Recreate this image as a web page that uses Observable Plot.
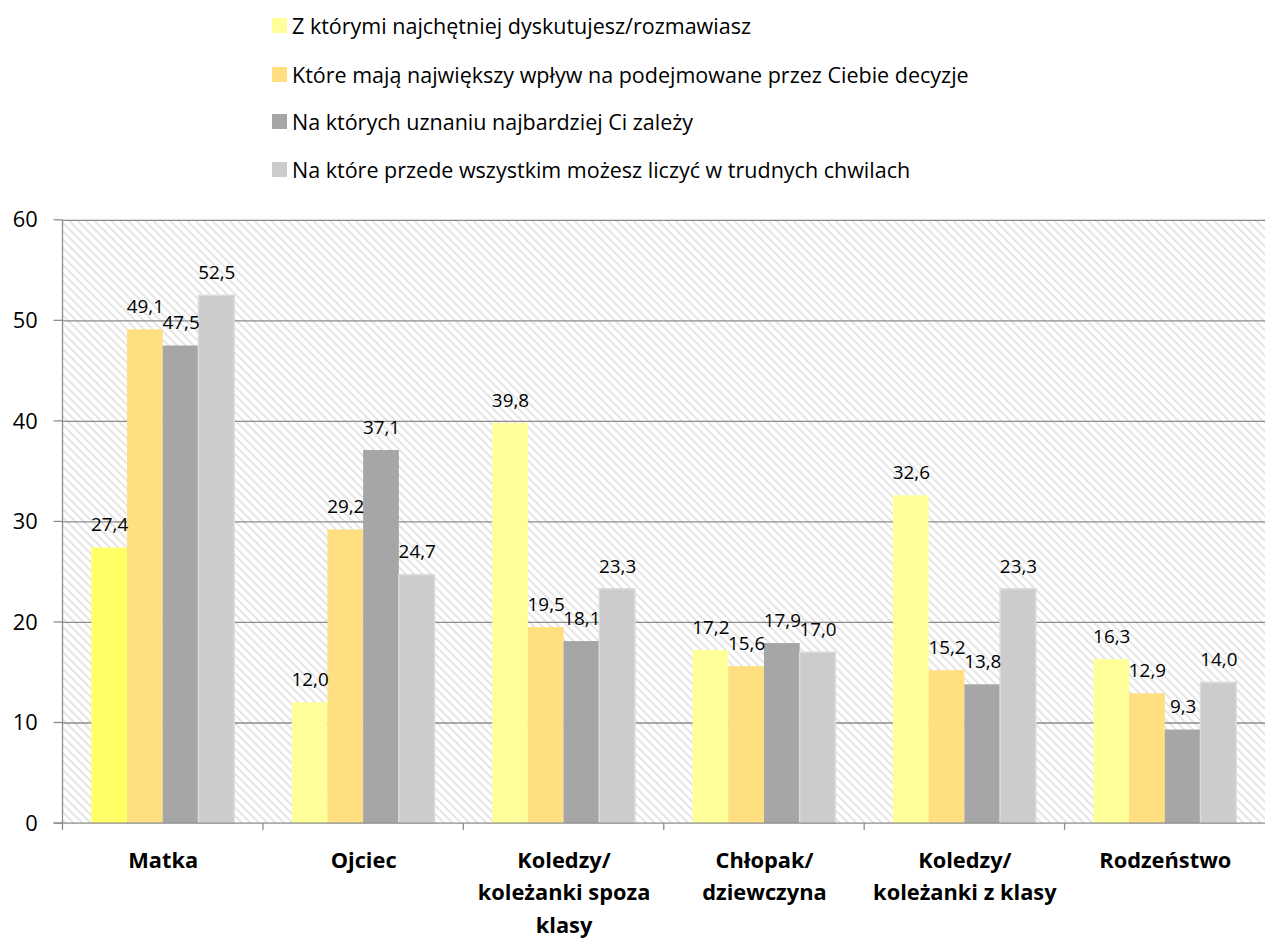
<!DOCTYPE html>
<html>
<head>
<meta charset="utf-8">
<script src="https://cdn.jsdelivr.net/npm/d3@7"></script>
<script src="https://cdn.jsdelivr.net/npm/@observablehq/plot@0.6"></script>
<style>
  html, body { margin: 0; padding: 0; background: #fff; }
  body { width: 1265px; height: 940px; position: relative; font-family: "Open Sans", sans-serif; overflow: hidden; }
  #legend { position: absolute; left: 272px; top: 0; }
  .item { position: absolute; left: 0; white-space: nowrap; font-size: 21.5px; color: #000; display: flex; align-items: center; height: 30px; }
  .sw { width: 15px; height: 15px; margin-right: 5px; flex: none; }
  #chart { position: absolute; left: 0; top: 195px; }
</style>
</head>
<body>
<div id="legend"></div>
<div id="chart"></div>
<script>
const categories = ["Matka", "Ojciec", "Koledzy/\nkoleżanki spoza\nklasy", "Chłopak/\ndziewczyna", "Koledzy/\nkoleżanki z klasy", "Rodzeństwo"];
const seriesNames = [
  "Z którymi najchętniej dyskutujesz/rozmawiasz",
  "Które mają największy wpływ na podejmowane przez Ciebie decyzje",
  "Na których uznaniu najbardziej Ci zależy",
  "Na które przede wszystkim możesz liczyć w trudnych chwilach"
];
const s1 = [27.4, 12.0, 39.8, 17.2, 32.6, 16.3];
const s2 = [49.1, 29.2, 19.5, 15.6, 15.2, 12.9];
const s3 = [47.5, 37.1, 18.1, 17.9, 13.8, 9.3];
const s4 = [52.5, 24.7, 23.3, 17.0, 23.3, 14.0];
const seriesValues = [s1, s2, s3, s4];
const colors = ["#FFFF99", "#FFDF80", "#A6A6A6", "#CCCCCC"];
const highlightColor = "#FFFF66";
const yTicks = [0, 10, 20, 30, 40, 50, 60];

// legend
const legend = document.getElementById("legend");
const rowCenters = [25, 74, 121, 169];
seriesNames.forEach((name, j) => {
  const div = document.createElement("div");
  div.className = "item";
  div.style.top = (rowCenters[j] - 15) + "px";
  div.innerHTML = `<span class="sw" style="background:${colors[j]}"></span><span></span>`;
  div.lastChild.textContent = name;
  legend.appendChild(div);
});

const data = [];
categories.forEach((cat, i) => {
  seriesNames.forEach((s, j) => {
    data.push({cat, series: s, value: seriesValues[j][i],
      color: (i === 0 && j === 0) ? highlightColor : colors[j]});
  });
});
const fmt = v => d3.format(".1f")(v).replace(".", ",");

const plot = Plot.plot({
  width: 1275,
  height: 745,
  marginLeft: 62,
  marginRight: 0,
  marginTop: 25,
  marginBottom: 112,
  style: {fontFamily: "'Open Sans', sans-serif", background: "transparent", overflow: "visible"},
  fx: {domain: categories, padding: 0, axis: null},
  x: {domain: seriesNames, paddingInner: 0, paddingOuter: 0.73, axis: null},
  y: {domain: [0, 60], axis: null},
  color: {type: "identity"},
  marks: [
    Plot.ruleY(yTicks.slice(1), {y: d => d, stroke: "#8c8c8c", strokeWidth: 1.3}),
    Plot.barY(data, {fx: "cat", x: "series", y: "value", fill: "color",
      stroke: d => d.series === seriesNames[3] ? "#DCDCDC" : "none", strokeWidth: 1.5}),
    Plot.text(data, {fx: "cat", x: "series", y: "value", text: d => fmt(d.value), dy: -23, fontSize: 19, fill: "#000"}),
    Plot.text(categories, {fx: d => d, text: d => d, frameAnchor: "bottom", lineAnchor: "top", dy: 21, fontSize: 22, fontWeight: "bold", lineHeight: 1.5, fill: "#000"})
  ]
});

document.getElementById("chart").appendChild(plot);

// pattern defs + background + axes drawn from the plot's scales
const svg = d3.select(plot);
const defs = svg.insert("defs", ":first-child");
const pat = defs.append("pattern").attr("id", "hatch").attr("patternUnits", "userSpaceOnUse")
  .attr("width", 6).attr("height", 6).attr("patternTransform", "rotate(-45)");
pat.append("rect").attr("width", 6).attr("height", 6).attr("fill", "#fff");
pat.append("line").attr("x1", 1).attr("y1", 0).attr("x2", 1).attr("y2", 6).attr("stroke", "#d4d4d4").attr("stroke-width", 1.2);

const fx = plot.scale("fx");
const y = plot.scale("y");
const y0 = y.apply(0), yTop = y.apply(60);
const left = fx.apply(categories[0]);
const right = fx.apply(categories[categories.length - 1]) + fx.bandwidth;
svg.insert("rect", "defs + *").attr("x", left).attr("y", yTop).attr("width", right - left).attr("height", y0 - yTop).attr("fill", "url(#hatch)");

const g = svg.append("g").attr("stroke", "#8c8c8c").attr("stroke-width", 1.3);
g.append("line").attr("x1", left).attr("x2", left).attr("y1", yTop).attr("y2", y0);
g.append("line").attr("x1", left - 9).attr("x2", right).attr("y1", y0).attr("y2", y0);
yTicks.forEach(t => {
  g.append("line").attr("x1", left - 9).attr("x2", left).attr("y1", y.apply(t)).attr("y2", y.apply(t));
});
categories.forEach(c => {
  const xb = fx.apply(c);
  g.append("line").attr("x1", xb).attr("x2", xb).attr("y1", y0).attr("y2", y0 + 7);
});
const tl = svg.append("g").attr("font-size", 22).attr("text-anchor", "end").attr("fill", "#000");
yTicks.forEach(t => {
  tl.append("text").attr("x", left - 25).attr("y", y.apply(t)).attr("dy", "0.35em").text(t);
});
</script>
</body>
</html>
